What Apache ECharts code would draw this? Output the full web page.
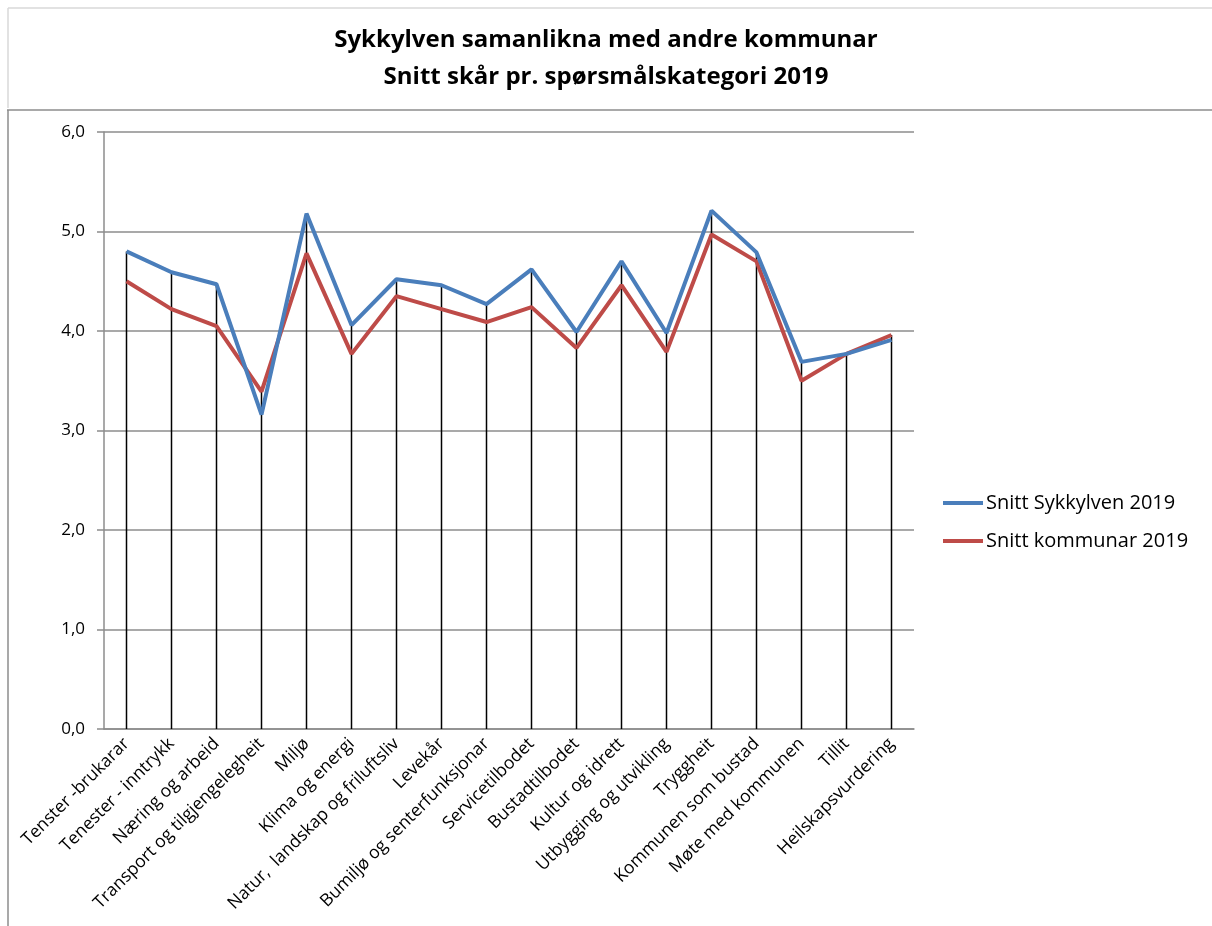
<!DOCTYPE html>
<html>
<head>
<meta charset="utf-8">
<script src="https://cdn.jsdelivr.net/npm/echarts@6/dist/echarts.min.js"></script>
<style>
html,body{margin:0;padding:0;background:#fff;}
#c{width:1212px;height:926px;}
</style>
</head>
<body>
<div id="c"></div>
<script>
const categories = ["Tenster -brukarar","Tenester - inntrykk","Næring og arbeid","Transport og tilgjengelegheit","Miljø","Klima og energi","Natur,  landskap og friluftsliv","Levekår","Bumiljø og senterfunksjonar","Servicetilbodet","Bustadtilbodet","Kultur og idrett","Utbygging og utvikling","Tryggheit","Kommunen som bustad","Møte med kommunen","Tillit","Heilskapsvurdering"];
const sykkylven = [4.80,4.59,4.47,3.16,5.18,4.06,4.52,4.46,4.27,4.62,3.99,4.70,3.98,5.21,4.79,3.69,3.77,3.91];
const kommunar = [4.50,4.22,4.05,3.39,4.78,3.77,4.35,4.22,4.09,4.24,3.83,4.46,3.79,4.97,4.70,3.50,3.77,3.96];
const yTicks = [0,1,2,3,4,5,6];
const seriesNames = ["Snitt Sykkylven 2019","Snitt kommunar 2019"];
const titleLines = ["Sykkylven samanlikna med andre kommunar","Snitt skår pr. spørsmålskategori 2019"];

const dropTop = sykkylven.map((v,i)=>Math.max(v,kommunar[i]));
const chart = echarts.init(document.getElementById('c'));
const font = "Open Sans";
chart.setOption({
  animation:false,
  backgroundColor:'#fff',
  graphic:[
    {type:'line',shape:{x1:8,y1:8,x2:1212,y2:8},style:{stroke:'#d9d9d9',lineWidth:1.5}},
    {type:'line',shape:{x1:8,y1:8,x2:8,y2:108},style:{stroke:'#d9d9d9',lineWidth:1.5}},
    {type:'line',shape:{x1:7,y1:110,x2:1212,y2:110},style:{stroke:'#8c8c8c',lineWidth:1.5}},
    {type:'line',shape:{x1:8,y1:110,x2:8,y2:926},style:{stroke:'#8c8c8c',lineWidth:1.5}},
    {type:'text',left:'center',top:28,style:{text:titleLines[0],font:'bold 24px "Open Sans"',fill:'#000'}},
    {type:'text',left:'center',top:65,style:{text:titleLines[1],font:'bold 24px "Open Sans"',fill:'#000'}}
  ],
  grid:{left:104,right:298,top:132,bottom:197,containLabel:false},
  legend:{
    orient:'vertical',left:938,top:488,itemGap:18,itemWidth:40,itemHeight:4,
    icon:'rect',data:seriesNames,
    textStyle:{fontFamily:font,fontSize:20,color:'#000',padding:[0,0,0,-2]}
  },
  xAxis:{
    type:'category',data:categories,boundaryGap:true,
    axisLine:{lineStyle:{color:'#8c8c8c',width:1.5}},
    axisTick:{show:false},
    axisLabel:{rotate:45,interval:0,fontFamily:font,fontSize:17.5,color:'#000',margin:12}
  },
  yAxis:{
    type:'value',min:0,max:6,interval:1,
    axisLine:{show:true,lineStyle:{color:'#8c8c8c',width:1.5}},
    axisTick:{show:true,length:7,lineStyle:{color:'#8c8c8c',width:1.5}},
    splitLine:{lineStyle:{color:'#8c8c8c',width:1.5}},
    axisLabel:{fontFamily:font,fontSize:17,color:'#000',margin:19,
      formatter:v=>v.toFixed(1).replace('.',',')}
  },
  series:[
    {name:'drop',type:'bar',data:dropTop,barWidth:1.5,itemStyle:{color:'#000'},z:1,silent:true},
    {name:seriesNames[0],type:'line',data:sykkylven,symbol:'none',z:3,
      lineStyle:{color:'#4a7ebb',width:4},itemStyle:{color:'#4a7ebb'}},
    {name:seriesNames[1],type:'line',data:kommunar,symbol:'none',z:2,
      lineStyle:{color:'#be4b48',width:4},itemStyle:{color:'#be4b48'}}
  ]
});
</script>
</body>
</html>
